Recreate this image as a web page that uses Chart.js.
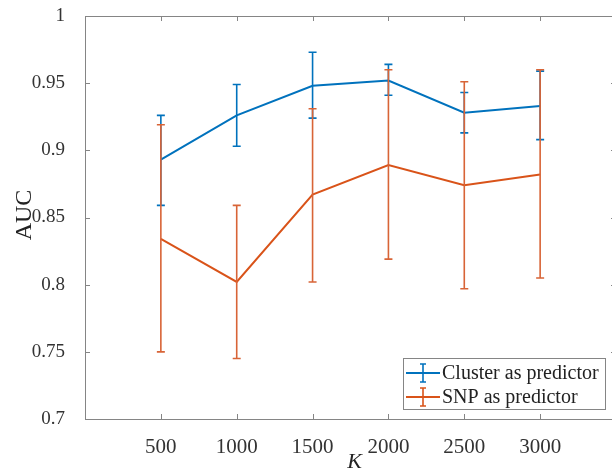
<!DOCTYPE html>
<html>
<head>
<meta charset="utf-8">
<script src="https://cdn.jsdelivr.net/npm/chart.js@4.4.1/dist/chart.umd.min.js"></script>
<style>
  html, body { margin: 0; padding: 0; background: #fff; overflow: hidden; }
  #wrap { position: relative; width: 620px; height: 475px; }
</style>
</head>
<body>
<div id="wrap"><canvas id="chart"></canvas></div>
<script>
// K values on the x axis
const kValues = [500, 1000, 1500, 2000, 2500, 3000];

// Cluster as predictor
const clusterAuc = [0.893, 0.926, 0.948, 0.952, 0.928, 0.933];
const clusterUpper = [0.926, 0.949, 0.973, 0.964, 0.943, 0.959];
const clusterLower = [0.859, 0.903, 0.924, 0.941, 0.913, 0.908];

// SNP as predictor
const snpAuc = [0.834, 0.802, 0.867, 0.889, 0.874, 0.882];
const snpUpper = [0.919, 0.859, 0.931, 0.960, 0.951, 0.960];
const snpLower = [0.750, 0.745, 0.802, 0.819, 0.797, 0.805];

const blue = "#0072BD";
const orange = "#D95319";
const serif = "'Liberation Serif', 'Times New Roman', serif";

function pts(ys) {
	return kValues.map((k, i) => ({ x: k, y: ys[i] }));
}

// vertical error bars with caps, drawn right after each dataset's line
const errorBars = {
	id: "errorBars",
	afterDatasetDraw(chart, args) {
		const ds = chart.data.datasets[args.index];
		const xs = chart.scales.x, ys = chart.scales.y;
		const ctx = chart.ctx;
		ctx.save();
		ctx.strokeStyle = ds.barColor;
		ctx.lineWidth = 1.6;
		ds.data.forEach((p, i) => {
			const px = xs.getPixelForValue(p.x);
			const t = ys.getPixelForValue(ds.errUpper[i]);
			const b = ys.getPixelForValue(ds.errLower[i]);
			ctx.beginPath();
			ctx.moveTo(px, t); ctx.lineTo(px, b);
			ctx.moveTo(px - 4, t); ctx.lineTo(px + 4, t);
			ctx.moveTo(px - 4, b); ctx.lineTo(px + 4, b);
			ctx.stroke();
		});
		ctx.restore();
	}
};

// matlab-ish box with inward ticks, axis titles, legend
const frame = {
	id: "frame",
	beforeDatasetsDraw(chart) {
		const { ctx, chartArea: a } = chart;
		const xs = chart.scales.x, ys = chart.scales.y;
		ctx.save();
		ctx.strokeStyle = "#858585";
		ctx.lineWidth = 1;
		ctx.strokeRect(a.left + 0.5, a.top + 0.5, a.right - a.left, a.bottom - a.top);
		ctx.beginPath();
		xs.ticks.forEach((t) => {
			const px = Math.round(xs.getPixelForValue(t.value)) + 0.5;
			ctx.moveTo(px, a.bottom); ctx.lineTo(px, a.bottom - 5);
			ctx.moveTo(px, a.top); ctx.lineTo(px, a.top + 5);
		});
		ys.ticks.forEach((t) => {
			const py = Math.round(ys.getPixelForValue(t.value)) + 0.5;
			ctx.moveTo(a.left, py); ctx.lineTo(a.left + 5, py);
			ctx.moveTo(a.right, py); ctx.lineTo(a.right - 5, py);
		});
		ctx.stroke();
		ctx.restore();
	},
	afterDraw(chart) {
		const { ctx, chartArea: a } = chart;
		ctx.save();
		ctx.fillStyle = "#222";
		ctx.textAlign = "center";
		ctx.textBaseline = "middle";
		ctx.font = "italic 22px " + serif;
		ctx.fillText("K", (a.left + a.right) / 2 + 4, 462);
		ctx.translate(25, 215);
		ctx.rotate(-Math.PI / 2);
		ctx.font = "24px " + serif;
		ctx.fillText("AUC", 0, 0);
		ctx.restore();

		// legend box
		const bx = 403, by = 358, bw = 202, bh = 51;
		ctx.save();
		ctx.fillStyle = "#fff";
		ctx.fillRect(bx, by, bw, bh);
		ctx.strokeStyle = "#858585";
		ctx.lineWidth = 1;
		ctx.strokeRect(bx + 0.5, by + 0.5, bw, bh);
		chart.data.datasets.forEach((ds, i) => {
			const cy = by + 15 + i * 24;
			ctx.strokeStyle = ds.borderColor;
			ctx.lineWidth = 2;
			ctx.beginPath();
			ctx.moveTo(bx + 3, cy); ctx.lineTo(bx + 37, cy);
			ctx.stroke();
			ctx.lineWidth = 1.6;
			ctx.beginPath();
			ctx.moveTo(bx + 20, cy - 9); ctx.lineTo(bx + 20, cy + 9);
			ctx.moveTo(bx + 17, cy - 9); ctx.lineTo(bx + 23, cy - 9);
			ctx.moveTo(bx + 17, cy + 9); ctx.lineTo(bx + 23, cy + 9);
			ctx.stroke();
			ctx.fillStyle = "#222";
			ctx.font = "20px " + serif;
			ctx.textAlign = "left";
			ctx.textBaseline = "middle";
			ctx.fillText(ds.label, bx + 39, cy + 1);
		});
		ctx.restore();
	}
};

let ctx = document.getElementById("chart").getContext("2d");
window.chart = new Chart(ctx, {
	type: "line",
	data: {
		datasets: [
			{
				label: "Cluster as predictor",
				data: pts(clusterAuc),
				errUpper: clusterUpper,
				errLower: clusterLower,
				borderColor: blue,
				barColor: blue,
				borderWidth: 2,
				pointRadius: 0,
				tension: 0,
				fill: false,
				order: 2
			},
			{
				label: "SNP as predictor",
				data: pts(snpAuc),
				errUpper: snpUpper,
				errLower: snpLower,
				borderColor: orange,
				barColor: "#D86437",
				borderWidth: 2,
				pointRadius: 0,
				tension: 0,
				fill: false,
				order: 1
			}
		]
	},
	options: {
		responsive: true,
		maintainAspectRatio: false,
		animation: false,
		layout: { padding: { left: 0, top: 16, right: 4, bottom: 0 } },
		plugins: { legend: { display: false }, tooltip: { enabled: false } },
		scales: {
			x: {
				type: "linear",
				min: 0,
				max: 3500,
				grid: { display: false },
				border: { display: false },
				ticks: {
					stepSize: 500,
					autoSkip: false,
					maxRotation: 0,
					padding: 8,
					color: "#333",
					font: { family: serif, size: 21 },
					callback: (v) => (v === 0 || v === 3500 ? "" : String(v))
				},
				afterFit: (s) => { s.height = 56; s.paddingLeft = 0; s.paddingRight = 0; }
			},
			y: {
				min: 0.7,
				max: 1,
				grid: { display: false },
				border: { display: false },
				ticks: {
					stepSize: 0.05,
					padding: 12,
					color: "#333",
					font: { family: serif, size: 19 },
					callback: (v) => String(Number(v.toFixed(2)))
				},
				afterFit: (s) => { s.width = 85; s.paddingTop = 0; s.paddingBottom = 0; }
			}
		}
	},
	plugins: [errorBars, frame]
});
</script>
</body>
</html>
